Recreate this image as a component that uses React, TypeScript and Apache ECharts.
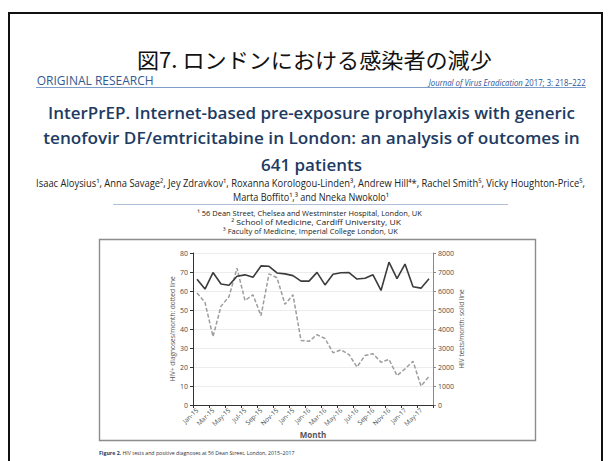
import React, { useEffect, useRef } from "react";
import * as echarts from "echarts";

// ---------- data ----------
const months = [
  "Jan-15", "Feb-15", "Mar-15", "Apr-15", "May-15", "Jun-15", "Jul-15", "Aug-15", "Sep-15", "Oct-15",
  "Nov-15", "Dec-15", "Jan-16", "Feb-16", "Mar-16", "Apr-16", "May-16", "Jun-16", "Jul-16", "Aug-16",
  "Sep-16", "Oct-16", "Nov-16", "Dec-16", "Jan-17", "Feb-17", "Mar-17", "Apr-17", "May-17", "Jun-17",
];
const tickLabels = [
  "Jan-15", "Mar-15", "May-15", "Jul-15", "Sep-15", "Nov-15", "Jan-15", "Jan-16",
  "Mar-16", "May-16", "Jul-16", "Sep-16", "Nov-16", "Jan-17", "May-17",
];
// HIV tests per month (solid line, right axis)
const hivTests = [
  6620, 6100, 6970, 6370, 6300, 6780, 6850, 6720, 7320, 7300,
  6950, 6900, 6810, 6520, 6520, 6980, 6320, 6880, 6960, 6970,
  6630, 6670, 6850, 6030, 7520, 6650, 7420, 6220, 6150, 6640,
];
// HIV+ diagnoses per month (dotted line, left axis)
const hivPositive = [
  59, 54, 36, 52, 57, 72, 55, 58, 47, 69,
  67, 53, 58, 34, 33.5, 37, 35, 27.5, 29, 26.5,
  20, 26, 27, 22.5, 24, 15.5, 19, 23, 10, 15,
];
const leftAxisName = "HIV+ diagnoses/month: dotted line";
const rightAxisName = "HIV tests/month: solid line";
const xAxisName = "Month";

const pageTitle = "図7. ロンドンにおける感染者の減少";
const sectionLabel = "ORIGINAL RESEARCH";
const journalName = "Journal of Virus Eradication";
const journalRef = " 2017; 3: 218–222";
const articleTitle = [
  "InterPrEP. Internet-based pre-exposure prophylaxis with generic",
  "tenofovir DF/emtricitabine in London: an analysis of outcomes in",
  "641 patients",
];
const authors = [
  "Isaac Aloysius¹, Anna Savage², Jey Zdravkov¹, Roxanna Korologou-Linden³, Andrew Hill⁴*, Rachel Smith⁵, Vicky Houghton-Price⁵,",
  "Marta Boffito¹,³ and Nneka Nwokolo¹",
];
const affiliations = [
  "¹ 56 Dean Street, Chelsea and Westminster Hospital, London, UK",
  "² School of Medicine, Cardiff University, UK",
  "³ Faculty of Medicine, Imperial College London, UK",
];
const captionLabel = "Figure 2.";
const captionText = " HIV tests and positive diagnoses at 56 Dean Street, London, 2015–2017";

// ---------- helpers ----------
const SANS = "'Open Sans', 'Noto Sans', sans-serif";
let measureCtx: CanvasRenderingContext2D | null = null;
function measure(text: string, size: number, family: string, weight = "normal", style = "normal") {
  if (!measureCtx) measureCtx = document.createElement("canvas").getContext("2d");
  if (!measureCtx) return text.length * size * 0.5;
  measureCtx.font = `${style} ${weight} ${size}px ${family}`;
  return measureCtx.measureText(text).width;
}

function fitText(
  str: string, x: number, y: number, size: number, color: string,
  align: "left" | "center" | "right", targetW: number | null,
  weight = "normal", family = SANS
) {
  const w = measure(str, size, family, weight);
  const s = targetW ? targetW / w : 1;
  return {
    type: "text", x, y, scaleX: s, z: 10,
    style: { text: str, fontSize: size, fontFamily: family, fontWeight: weight, fill: color, align, verticalAlign: "middle" },
  };
}

export default function App() {
  const ref = useRef<HTMLDivElement>(null);
  useEffect(() => {
    if (!ref.current) return;
    const chart = echarts.init(ref.current, undefined, { renderer: "svg" });

    const jSize = 9;
    const jW = measure(journalName, jSize, SANS, "normal", "italic") + measure(journalRef, jSize, SANS);
    const jScale = 157 / jW;
    const cSize = 6;
    const cW = measure(captionLabel, cSize, SANS, "bold") + measure(captionText, cSize, SANS);
    const cScale = 196 / cW;

    const navy = "#1d3b63";
    const graphic: any[] = [
      { type: "rect", z: 0, shape: { x: 9, y: 13, width: 593, height: 470 }, style: { fill: "none", stroke: "#111", lineWidth: 2 } },
      { type: "rect", z: 0, shape: { x: 99.5, y: 239.5, width: 436, height: 201 }, style: { fill: "none", stroke: "#8c8c8c", lineWidth: 1.4 } },
      fitText(pageTitle, 137, 58.5, 21, "#111", "left", 355, "normal", "'Noto Sans CJK JP', sans-serif"),
      fitText(sectionLabel, 36.7, 80.5, 12, "#34598e", "left", 117),
      {
        type: "text", x: 585.7, y: 82, scaleX: jScale, z: 10,
        style: {
          text: `{i|${journalName}}{n|${journalRef}}`, align: "right", verticalAlign: "middle",
          rich: {
            i: { fontSize: jSize, fontFamily: SANS, fontStyle: "italic", fill: "#2c5291" },
            n: { fontSize: jSize, fontFamily: SANS, fill: "#2c5291" },
          },
        },
      },
      { type: "line", z: 5, shape: { x1: 36, y1: 87.5, x2: 586, y2: 87.5 }, style: { stroke: "#7d9cc8", lineWidth: 1 } },
      fitText(articleTitle[0], 311.5, 112, 17, navy, "center", 527, "600"),
      fitText(articleTitle[1], 311.5, 138, 17, navy, "center", 537, "600"),
      fitText(articleTitle[2], 311.5, 164, 17, navy, "center", 101, "600"),
      fitText(authors[0], 310.5, 183, 10, "#222", "center", 549),
      fitText(authors[1], 311, 197, 10, "#222", "center", 156),
      { type: "line", z: 5, shape: { x1: 113, y1: 204.5, x2: 508, y2: 204.5 }, style: { stroke: "#aebfd8", lineWidth: 1 } },
      fitText(affiliations[0], 309.5, 213, 8, "#222", "center", 225),
      fitText(affiliations[1], 316, 222, 8, "#222", "center", 170),
      fitText(affiliations[2], 310.5, 231, 8, "#222", "center", 175),
      {
        type: "text", x: 99, y: 453, scaleX: cScale, z: 10,
        style: {
          text: `{b|${captionLabel}}{n|${captionText}}`, align: "left", verticalAlign: "middle",
          rich: {
            b: { fontSize: cSize, fontFamily: SANS, fontWeight: "bold", fill: "#1d3b63" },
            n: { fontSize: cSize, fontFamily: SANS, fill: "#333" },
          },
        },
      },
    ];

    const axisText = { fontSize: 7, color: "#4a4a4a", fontFamily: SANS };
    chart.setOption({
      animation: false,
      backgroundColor: "#fff",
      graphic,
      grid: { left: 193, top: 253, width: 240, height: 152, containLabel: false },
      xAxis: {
        type: "category",
        data: months,
        boundaryGap: true,
        name: xAxisName,
        nameLocation: "middle",
        nameGap: 23,
        nameTextStyle: { fontSize: 8, fontWeight: "bold", color: "#555", fontFamily: SANS },
        axisLine: { lineStyle: { color: "#333", width: 1 } },
        axisTick: { show: true, interval: 1, length: 3, lineStyle: { color: "#333" } },
        axisLabel: {
          interval: 1, rotate: 45, fontSize: 6.5, color: "#4a4a4a", margin: 4, fontFamily: SANS,
          formatter: (_v: string, i: number) => tickLabels[Math.round(i / 2)] ?? "",
        },
        splitLine: { show: false },
      },
      yAxis: [
        {
          type: "value", position: "left", min: 0, max: 80, interval: 10,
          name: leftAxisName, nameLocation: "middle", nameRotate: 90, nameGap: 17,
          nameTextStyle: { fontSize: 6.5, color: "#555", fontFamily: SANS },
          axisLine: { show: true, lineStyle: { color: "#333" } },
          axisTick: { show: true, length: 3, lineStyle: { color: "#333" } },
          axisLabel: { ...axisText, margin: 5 },
          splitLine: { show: true, lineStyle: { color: "#ececec", width: 1 } },
        },
        {
          type: "value", position: "right", min: 0, max: 8000, interval: 1000,
          name: rightAxisName, nameLocation: "middle", nameRotate: 90, nameGap: 25,
          nameTextStyle: { fontSize: 6.5, color: "#555", fontFamily: SANS },
          axisLine: { show: true, lineStyle: { color: "#8a8a8a" } },
          axisTick: { show: true, length: 3, lineStyle: { color: "#8a8a8a" } },
          axisLabel: { ...axisText, margin: 5, formatter: (v: number) => String(v) },
          splitLine: { show: false },
        },
      ],
      series: [
        {
          name: "HIV+ diagnoses", type: "line", yAxisIndex: 0, data: hivPositive,
          symbol: "none", lineStyle: { color: "#9d9d9d", width: 1.5, type: [4, 2] },
        },
        {
          name: "HIV tests", type: "line", yAxisIndex: 1, data: hivTests,
          symbol: "none", lineStyle: { color: "#3b3b3b", width: 1.6 },
        },
      ],
    });
    return () => chart.dispose();
  }, []);
  return <div ref={ref} style={{ position: "absolute", left: 0, top: 0, width: 610, height: 461 }} />;
}
